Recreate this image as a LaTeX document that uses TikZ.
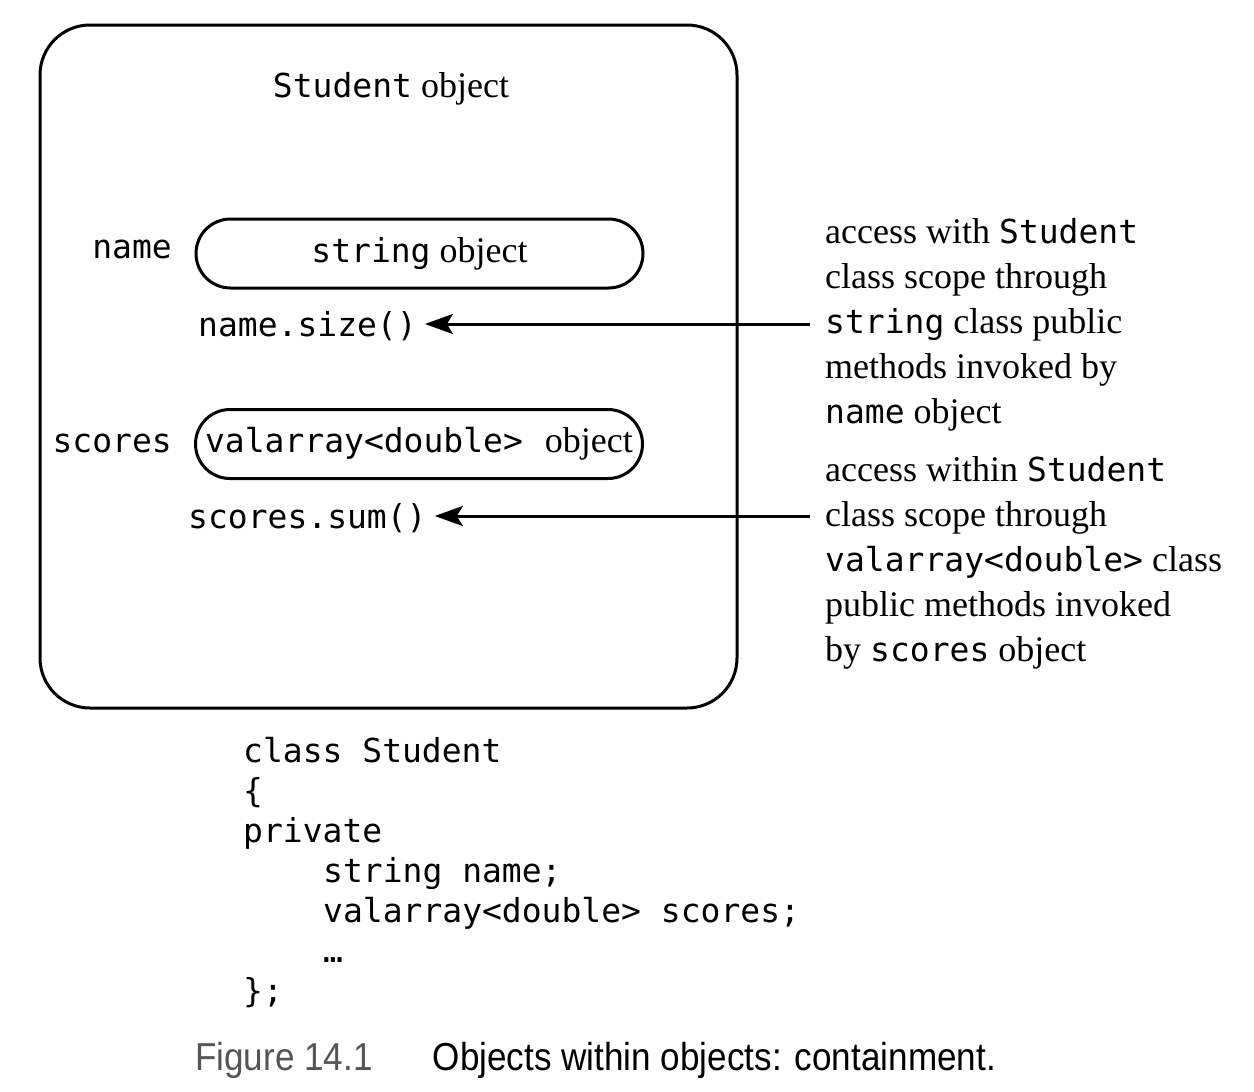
\documentclass[tikz,border=0pt]{standalone}
\usepackage{fontspec}
\setmainfont{Liberation Serif}
\setmonofont{DejaVu Sans Mono}
\newfontfamily\capfont[FakeStretch=0.9]{Liberation Sans}
\usepackage{tikz}
\usetikzlibrary{arrows.meta, positioning, shapes.misc}
\definecolor{figgray}{RGB}{85, 85, 85}
\newcommand{\cpp}[1]{{\fontsize{33}{45}\selectfont\ttfamily #1}}

\begin{document}
\begin{tikzpicture}[
  x=1pt, y=-1pt,
  every node/.style={font=\fontsize{36}{45}\selectfont, inner sep=0pt},
  outerbox/.style={draw, line width=3pt, rounded corners=50pt, minimum width=697pt, minimum height=683pt},
  member/.style={draw, line width=3pt, rounded rectangle, minimum width=447pt, minimum height=69pt},
  note/.style={align=left, anchor=north west},
  codeblock/.style={align=left, anchor=north west, font=\fontsize{33}{40}\selectfont\ttfamily},
  arrow/.style={-{Stealth[length=28pt, width=20pt, inset=6pt]}, line width=3pt}
]
  \useasboundingbox (0,0) rectangle (1254,1092);

  % Student object
  \node[outerbox] (student) at (388.5,366.5) {};
  \node[anchor=base] (title) at (391,97) {\cpp{Student} object};

  % Members
  \node[member] (strobj) at (419.5,253.5) {\cpp{string} object};
  \node[anchor=base east] (namelbl) at (172,258) {\cpp{name}};
  \node[anchor=base west] (sizecall) at (198,336) {\cpp{name.size()}};

  \node[member] (valobj) at (419,444) {\cpp{valarray<double>}\hspace{22pt}object};
  \node[anchor=base east] (scoreslbl) at (172,452) {\cpp{scores}};
  \node[anchor=base west] (sumcall) at (188,528) {\cpp{scores.sum()}};

  % Notes on the right
  \node[note] (namenote) at (825,218) {access with \cpp{Student}\\ class scope through\\ \cpp{string} class public\\ methods invoked by\\ \cpp{name} object};
  \node[note] (scoresnote) at (825,456) {access within \cpp{Student}\\ class scope through\\ \cpp{valarray<double>} class\\ public methods invoked\\ by \cpp{scores} object};

  \coordinate (namesrc) at (810,324);
  \coordinate (scoressrc) at (810,516);
  \draw[arrow] (namesrc) -- ([xshift=8pt]namesrc -| sizecall.east);
  \draw[arrow] (scoressrc) -- ([xshift=8pt]scoressrc -| sumcall.east);

  % Class declaration
  \node[codeblock] (decl) at (243,737) {class Student\\ \{\\ private\\ \hspace*{80pt}string name;\\ \hspace*{80pt}valarray<double> scores;\\ \hspace*{80pt}…\\ \};};

  % Caption
  \node[anchor=base west, font=\fontsize{39}{45}\selectfont\capfont] (caption) at (195,1070) {{\color{figgray}Figure 14.1}\hspace{60pt}Objects within objects: containment.};
\end{tikzpicture}
\end{document}
